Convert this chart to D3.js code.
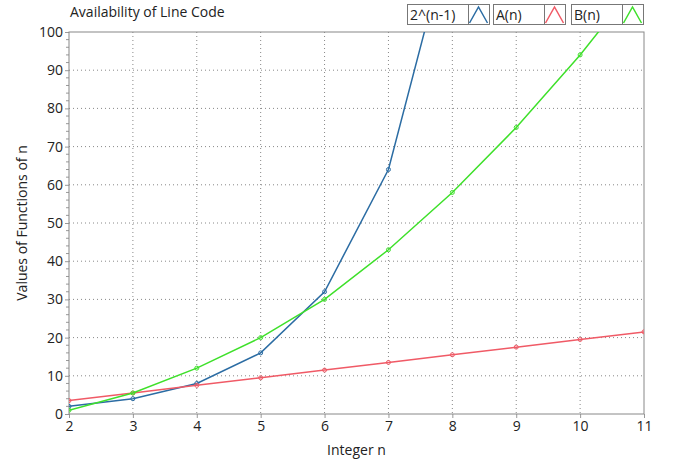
<!DOCTYPE html>
<meta charset="utf-8">
<script src="https://d3js.org/d3.v7.min.js"></script>
<style>
  body { margin: 0; background: #fff; }
  text { font-family: "Open Sans", "Noto Sans", sans-serif; fill: #222; }
</style>
<div id="chart"></div>
<script>
// data
var nValues = [2, 3, 4, 5, 6, 7, 8, 9, 10, 11];
var pow2 = [2, 4, 8, 16, 32, 64, 128];          // 2^(n-1), n = 2..8
var aValues = [3.5, 5.5, 7.5, 9.5, 11.5, 13.5, 15.5, 17.5, 19.5, 21.5];
var bValues = [1, 5.5, 12, 20, 30, 43, 58, 75, 94, 115];
var yTicks = [0, 10, 20, 30, 40, 50, 60, 70, 80, 90, 100];
var seriesNames = ["2^(n-1)", "A(n)", "B(n)"];
var seriesColors = ["#2b6ca3", "#f05a66", "#3ee02a"];

var W = 678, H = 464;
var margin = {top: 32, right: 34, bottom: 50, left: 69};
var width = W - margin.left - margin.right,
    height = H - margin.top - margin.bottom;

var svg = d3.select("#chart").append("svg")
    .attr("width", W).attr("height", H);

var g = svg.append("g")
    .attr("transform", "translate(" + margin.left + "," + margin.top + ")");

var x = d3.scaleLinear().domain([2, 11]).range([0, width]);
var y = d3.scaleLinear().domain([0, 100]).range([height, 0]);

// grid
g.append("g").selectAll("line").data(nValues.slice(1, -1))
  .enter().append("line")
    .attr("x1", d => x(d)).attr("x2", d => x(d))
    .attr("y1", 0).attr("y2", height)
    .attr("stroke", "#888").attr("stroke-dasharray", "1,3");
g.append("g").selectAll("line").data(yTicks.slice(1, -1))
  .enter().append("line")
    .attr("x1", 0).attr("x2", width)
    .attr("y1", d => y(d)).attr("y2", d => y(d))
    .attr("stroke", "#888").attr("stroke-dasharray", "1,3");

// y minor ticks
g.append("g").selectAll("line").data(d3.range(0, 101, 2).filter(v => v % 10 != 0))
  .enter().append("line")
    .attr("x1", -3).attr("x2", 0)
    .attr("y1", d => y(d)).attr("y2", d => y(d))
    .attr("stroke", "#999");

// axes
var yAxis = g.append("g")
    .call(d3.axisLeft(y).tickValues(yTicks).tickSize(4).tickPadding(2));
var xAxis = g.append("g")
    .attr("transform", "translate(0," + height + ")")
    .call(d3.axisBottom(x).tickValues(nValues).tickSize(4).tickPadding(3));
[xAxis, yAxis].forEach(function(a) {
  a.select(".domain").remove();
  a.selectAll("line").attr("stroke", "#999");
  a.selectAll("text").style("font-size", "14px").style("font-family", "\"Open Sans\", sans-serif").attr("fill", "#222");
});

// frame
g.append("rect").attr("width", width).attr("height", height)
  .attr("fill", "none").attr("stroke", "#888").attr("stroke-width", 1);

// clip
g.append("clipPath").attr("id", "clip").append("rect")
  .attr("width", width).attr("height", height);

var series = [
  pow2.map((v, i) => [nValues[i], v]),
  aValues.map((v, i) => [nValues[i], v]),
  bValues.map((v, i) => [nValues[i], v])
];

var line = d3.line().x(d => x(d[0])).y(d => y(d[1]));
var plot = g.append("g").attr("clip-path", "url(#clip)");
series.forEach(function(s, i) {
  plot.append("path").datum(s)
    .attr("d", line).attr("fill", "none")
    .attr("stroke", seriesColors[i]).attr("stroke-width", 1.5);
  plot.selectAll(null).data(s).enter().append("circle")
    .attr("cx", d => x(d[0])).attr("cy", d => y(d[1])).attr("r", 2)
    .attr("fill", "none").attr("stroke", seriesColors[i]).attr("stroke-width", 1);
});

// labels
svg.append("text").attr("x", 70).attr("y", 17)
  .style("font-size", "14px").text("Availability of Line Code");
svg.append("text")
  .attr("transform", "translate(27," + (margin.top + height / 2) + ") rotate(-90)")
  .attr("text-anchor", "middle").style("font-size", "14px")
  .text("Values of Functions of n");
svg.append("text").attr("x", margin.left + width / 2).attr("y", 455)
  .attr("text-anchor", "middle").style("font-size", "14px").text("Integer n");

// legend
var legendBoxes = [[407, 468, 489], [493, 544, 565], [571, 622, 643]];
legendBoxes.forEach(function(b, i) {
  var lg = svg.append("g");
  lg.append("rect").attr("x", b[0] + 0.5).attr("y", 4.5)
    .attr("width", b[2] - b[0]).attr("height", 20)
    .attr("fill", "#fff").attr("stroke", "#777");
  lg.append("line").attr("x1", b[1] + 0.5).attr("x2", b[1] + 0.5)
    .attr("y1", 4.5).attr("y2", 24.5).attr("stroke", "#777");
  lg.append("text").attr("x", b[0] + 3).attr("y", 19.5)
    .style("font-size", "14px").text(seriesNames[i]);
  var cx = (b[1] + b[2]) / 2;
  lg.append("path")
    .attr("d", "M" + (cx - 9) + ",23 L" + cx + ",7 L" + (cx + 9) + ",23")
    .attr("fill", "none").attr("stroke", seriesColors[i]).attr("stroke-width", 1.5);
});
</script>
